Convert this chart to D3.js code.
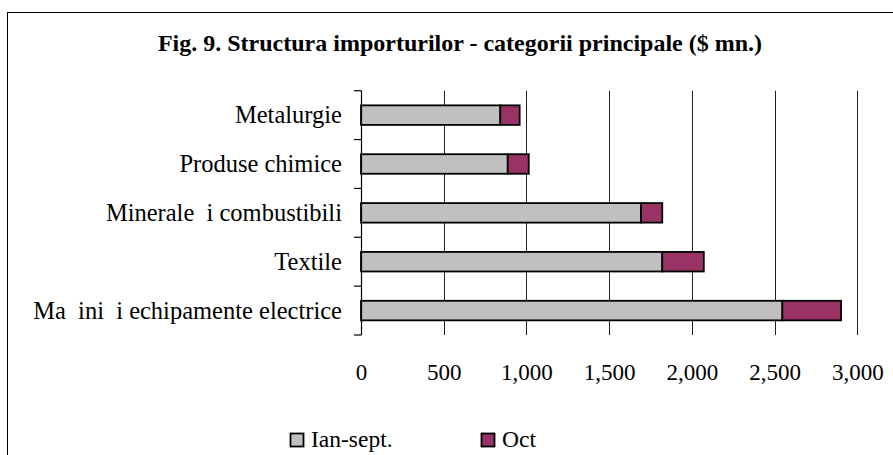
<!DOCTYPE html>
<html>
<head>
<meta charset="utf-8">
<script src="https://cdn.jsdelivr.net/npm/d3@7"></script>
<style>
    body { margin: 0; background: #fff; }
</style>
</head>
<body>
<script>
(function(){
    //chart data, top to bottom
    var categories = ["Metalurgie", "Produse chimice", "Minerale  i combustibili", "Textile", "Ma  ini  i echipamente electrice"];
    var ianSept = [842, 887, 1693, 1821, 2547];
    var oct = [117, 127, 128, 251, 355];
    var seriesNames = ["Ian-sept.", "Oct"];
    var seriesColors = ["#C0C0C0", "#993366"];
    var tickValues = [0, 500, 1000, 1500, 2000, 2500, 3000];
    var title = "Fig. 9. Structura importurilor - categorii principale ($ mn.)";

    var serif = "'Liberation Serif'";

window.onload = setChart();

function setChart(){
    var width = 893,
        height = 455;

    var svg = d3.select("body")
        .append("svg")
        .attr("width", width)
        .attr("height", height);

    //outer chart frame (right and bottom edges fall outside the picture)
    svg.append("rect")
        .attr("x", 7.5)
        .attr("y", 12.5)
        .attr("width", 1000)
        .attr("height", 1000)
        .attr("fill", "none")
        .attr("stroke", "#000")
        .attr("stroke-width", 1);

    //title
    svg.append("text")
        .attr("x", 460)
        .attr("y", 51)
        .attr("text-anchor", "middle")
        .attr("font-family", serif)
        .attr("font-size", 24)
        .attr("font-weight", "bold")
        .text(title);

    //plot area
    var plot = {left: 361, right: 857.3, top: 90.7, bottom: 335};

    var x = d3.scaleLinear()
        .domain([0, 3000])
        .range([plot.left, plot.right]);

    var y = d3.scaleBand()
        .domain(categories)
        .range([plot.top, plot.bottom])
        .paddingInner(0.6)
        .paddingOuter(0.3);

    setGrid(svg, x, plot);
    setBars(svg, x, y);
    setAxes(svg, x, y, plot);
    setLegend(svg);
};

function setGrid(svg, x, plot){
    //vertical gridlines at each tick
    svg.selectAll(".grid")
        .data(tickValues.slice(1))
        .enter()
        .append("line")
        .attr("class", "grid")
        .attr("x1", function(d){ return Math.round(x(d)) + 0.5; })
        .attr("x2", function(d){ return Math.round(x(d)) + 0.5; })
        .attr("y1", plot.top)
        .attr("y2", plot.bottom)
        .attr("stroke", "#222")
        .attr("stroke-width", 1);
};

function setBars(svg, x, y){
    //stack the two series
    var rows = categories.map(function(c, i){
        return {cat: c, a: ianSept[i], b: oct[i]};
    });

    var g = svg.append("g").attr("class", "bars");

    //first series: Ian-sept.
    g.selectAll(".barA")
        .data(rows)
        .enter()
        .append("rect")
        .attr("class", "barA")
        .attr("x", x(0))
        .attr("y", function(d){ return y(d.cat); })
        .attr("width", function(d){ return x(d.a) - x(0); })
        .attr("height", y.bandwidth())
        .attr("fill", seriesColors[0])
        .attr("stroke", "#000")
        .attr("stroke-width", 1.8);

    //second series: Oct, stacked after the first
    g.selectAll(".barB")
        .data(rows)
        .enter()
        .append("rect")
        .attr("class", "barB")
        .attr("x", function(d){ return x(d.a); })
        .attr("y", function(d){ return y(d.cat); })
        .attr("width", function(d){ return x(d.a + d.b) - x(d.a); })
        .attr("height", y.bandwidth())
        .attr("fill", seriesColors[1])
        .attr("stroke", "#000")
        .attr("stroke-width", 1.8);
};

function setAxes(svg, x, y, plot){
    var step = y.step();

    //category axis line
    svg.append("line")
        .attr("x1", plot.left + 0.5)
        .attr("x2", plot.left + 0.5)
        .attr("y1", plot.top)
        .attr("y2", plot.bottom)
        .attr("stroke", "#000")
        .attr("stroke-width", 1.2);

    //tick marks between categories (and at both ends)
    var bounds = d3.range(categories.length + 1).map(function(i){
        return plot.top + i * step;
    });
    svg.selectAll(".ytick")
        .data(bounds)
        .enter()
        .append("line")
        .attr("class", "ytick")
        .attr("x1", plot.left - 7)
        .attr("x2", plot.left + 0.5)
        .attr("y1", function(d){ return d; })
        .attr("y2", function(d){ return d; })
        .attr("stroke", "#000")
        .attr("stroke-width", 1.2);

    //category labels
    svg.selectAll(".ylabel")
        .data(categories)
        .enter()
        .append("text")
        .attr("class", "ylabel")
        .attr("x", 342)
        .attr("y", function(d){ return y(d) + y.bandwidth() / 2 + 8; })
        .attr("text-anchor", "end")
        .attr("xml:space", "preserve")
        .attr("font-family", serif)
        .attr("font-size", 24.5)
        .style("white-space", "pre")
        .text(function(d){ return d; });

    //value axis labels (no axis line, labels only)
    var xAxis = d3.axisBottom(x)
        .tickValues(tickValues)
        .tickSize(0)
        .tickPadding(0)
        .tickFormat(d3.format(","));

    var ax = svg.append("g")
        .attr("transform", "translate(0," + plot.bottom + ")")
        .call(xAxis)
        .attr("font-family", serif)
        .attr("font-size", 23);
    ax.select(".domain").remove();
    ax.selectAll("text")
        .attr("y", 45)
        .attr("dy", null)
        .attr("fill", "#000");
};

function setLegend(svg){
    var items = [
        {name: seriesNames[0], color: seriesColors[0], x: 290},
        {name: seriesNames[1], color: seriesColors[1], x: 481}
    ];

    var lg = svg.selectAll(".legend")
        .data(items)
        .enter()
        .append("g")
        .attr("class", "legend")
        .attr("transform", function(d){ return "translate(" + d.x + ",433)"; });

    lg.append("rect")
        .attr("x", 0.5)
        .attr("y", 0.5)
        .attr("width", 13)
        .attr("height", 13)
        .attr("fill", function(d){ return d.color; })
        .attr("stroke", "#000")
        .attr("stroke-width", 1.8);

    lg.append("text")
        .attr("x", 21)
        .attr("y", 14)
        .attr("font-family", serif)
        .attr("font-size", 23.5)
        .text(function(d){ return d.name; });
};

})();
</script>
</body>
</html>
